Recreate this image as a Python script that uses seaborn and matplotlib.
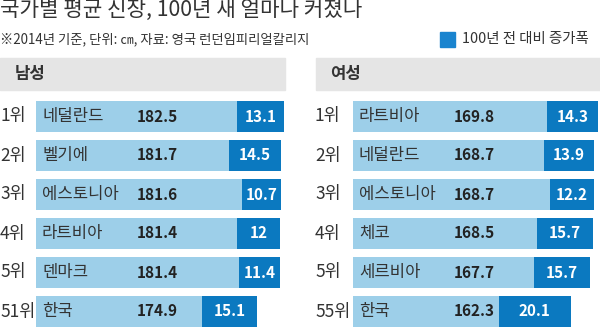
import numpy as np
import pandas as pd
import matplotlib
matplotlib.use("Agg")
import matplotlib.pyplot as plt
import seaborn as sns
from matplotlib.patches import Rectangle
from matplotlib.transforms import blended_transform_factory

# ---- data ----
title = "국가별 평균 신장, 100년 새 얼마나 커졌나"
subtitle = "※2014년 기준, 단위: ㎝, 자료: 영국 런던임피리얼칼리지"
legend_label = "100년 전 대비 증가폭"

ranks_m = ["1위", "2위", "3위", "4위", "5위", "51위"]
countries_m = ["네덜란드", "벨기에", "에스토니아", "라트비아", "덴마크", "한국"]
height_m = [182.5, 181.7, 181.6, 181.4, 181.4, 174.9]
gain_m = [13.1, 14.5, 10.7, 12, 11.4, 15.1]

ranks_f = ["1위", "2위", "3위", "4위", "5위", "55위"]
countries_f = ["라트비아", "네덜란드", "에스토니아", "체코", "세르비아", "한국"]
height_f = [169.8, 168.7, 168.7, 168.5, 167.7, 162.3]
gain_f = [14.3, 13.9, 12.2, 15.7, 15.7, 20.1]

# ---- style ----
LIGHT = "#9dcfe9"
DARK = "#0b79c0"
GRAY = "#e5e5e5"
TXT = "#333333"
PX_PER_CM = 3.6

sns.set_theme(style="white")
plt.rcParams["font.family"] = ["Noto Sans CJK KR", "DejaVu Sans"]

W, H = 600, 327
fig = plt.figure(figsize=(6, 3.27), dpi=100)
fig.patch.set_facecolor("white")


def fx(px):
    return px / W


def fy(py):
    return 1 - py / H


fig.text(0, fy(10), title, fontsize=15.3, color=TXT, ha="left", va="center")
fig.text(0, fy(39.5), subtitle, fontsize=9.6, color=TXT, ha="left", va="center")
fig.patches.append(Rectangle((fx(440), fy(47)), fx(15), 15 / H,
                             transform=fig.transFigure, color="#1a84cf"))
fig.text(fx(462), fy(39.5), legend_label, fontsize=10.4, color=TXT,
         ha="left", va="center")

# header boxes
fig.patches.append(Rectangle((0, fy(90)), fx(285), 32 / H,
                             transform=fig.transFigure, color=GRAY, zorder=0))
fig.patches.append(Rectangle((fx(316), fy(90)), fx(284), 32 / H,
                             transform=fig.transFigure, color=GRAY, zorder=0))
fig.text(fx(15), fy(74), "남성", fontsize=12, weight="bold", color=TXT,
         ha="left", va="center")
fig.text(fx(330), fy(74), "여성", fontsize=12, weight="bold", color=TXT,
         ha="left", va="center")


def panel(x0, x1, rank_x, ranks, countries, heights, gains):
    wpx = x1 - x0
    ax = fig.add_axes([fx(x0), fy(331), fx(wpx), 234 / H])
    df = pd.DataFrame({"country": countries, "height": heights})
    sns.barplot(data=df, x="height", y="country", orient="h", color=LIGHT,
                saturation=1, width=0.8, errorbar=None, linewidth=0, ax=ax)
    n = len(countries)
    h = np.array(heights)
    g = np.array(gains)
    ax.barh(np.arange(n), g, left=h - g, height=0.8, color=DARK, linewidth=0)
    ax.set_xlim(h.max() - wpx / PX_PER_CM, h.max())
    ax.set_ylim(n - 0.5, -0.5)
    ax.axis("off")
    tr_fig = blended_transform_factory(fig.transFigure, ax.transData)
    tr_ax = blended_transform_factory(ax.transAxes, ax.transData)
    for i in range(n):
        ax.text(fx(rank_x), i, ranks[i], transform=tr_fig, fontsize=12.5,
                color=TXT, ha="left", va="center", clip_on=False)
        ax.text(6 / wpx, i, countries[i], transform=tr_ax, fontsize=12,
                color=TXT, ha="left", va="center")
        ax.text(101 / wpx, i, f"{heights[i]:.1f}", transform=tr_ax,
                fontsize=11, weight="bold", color="#222222",
                ha="left", va="center")
        ax.text(h[i] - g[i] / 2, i, f"{gains[i]:g}", fontsize=11,
                weight="bold", color="white", ha="center", va="center")
    return ax


panel(36, 284, 0, ranks_m, countries_m, height_m, gain_m)
panel(353, 598, 315, ranks_f, countries_f, height_f, gain_f)

fig.savefig("out.png", dpi=100, facecolor="white")
